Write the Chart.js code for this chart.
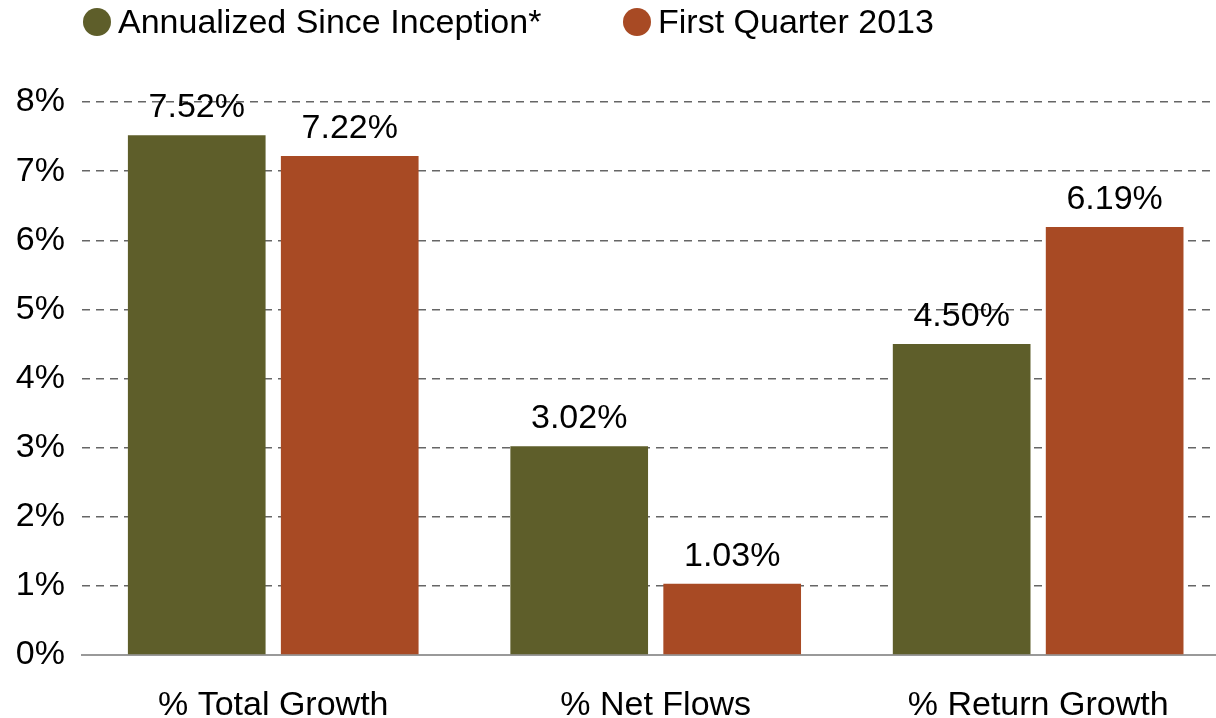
<!DOCTYPE html>
<html>
<head>
<meta charset="utf-8">
<script src="https://cdn.jsdelivr.net/npm/chart.js@4/dist/chart.umd.min.js"></script>
<style>
  html, body { margin: 0; padding: 0; background: #fff; }
  #wrap { width: 1216px; height: 718px; position: relative; }
</style>
</head>
<body>
<div id="wrap"><canvas id="growthChart"></canvas></div>
<script>
// ------------------------------------------------------------
// DATA
// ------------------------------------------------------------
const categories = ["% Total Growth", "% Net Flows", "% Return Growth"];
const seriesNames = ["Annualized Since Inception*", "First Quarter 2013"];
const sinceInception = [7.52, 3.02, 4.50];
const firstQuarter = [7.22, 1.03, 6.19];
const yTicks = [0, 1, 2, 3, 4, 5, 6, 7, 8];

const GREEN = "#5e5e2a";
const ORANGE = "#a84a24";
const FONT = "'Liberation Sans', Arial, Helvetica, sans-serif";
const FSIZE = 34;

Chart.defaults.font.family = FONT;
Chart.defaults.font.size = FSIZE;
Chart.defaults.color = "#000";

// ------------------------------------------------------------
// PLUGINS
// ------------------------------------------------------------
const valueLabels = {
  id: "valueLabels",
  afterDatasetsDraw(chart) {
    const ctx = chart.ctx;
    ctx.save();
    ctx.font = FSIZE + "px " + FONT;
    ctx.fillStyle = "#000";
    ctx.textAlign = "center";
    ctx.textBaseline = "alphabetic";
    chart.data.datasets.forEach((ds, i) => {
      chart.getDatasetMeta(i).data.forEach((bar, j) => {
        const v = ds.data[j].y;
        ctx.fillText(v.toFixed(2) + "%", bar.x, bar.y - 18);
      });
    });
    ctx.restore();
  }
};

const topLegend = {
  id: "topLegend",
  afterDraw(chart) {
    const ctx = chart.ctx;
    const items = [
      { x: 97, color: GREEN },
      { x: 637, color: ORANGE }
    ];
    ctx.save();
    ctx.font = FSIZE + "px " + FONT;
    ctx.textBaseline = "middle";
    ctx.textAlign = "left";
    chart.data.datasets.forEach((ds, i) => {
      const it = items[i];
      ctx.fillStyle = it.color;
      ctx.beginPath();
      ctx.arc(it.x, 22, 14, 0, Math.PI * 2);
      ctx.fill();
      ctx.fillStyle = "#000";
      ctx.fillText(ds.label, it.x + 21, 24);
    });
    ctx.restore();
  }
};

// ------------------------------------------------------------
// CHART
// ------------------------------------------------------------
const toPoints = arr => arr.map((v, i) => ({ x: i, y: v }));

new Chart(document.getElementById("growthChart"), {
  type: "bar",
  data: {
    datasets: [
      {
        label: seriesNames[0],
        data: toPoints(sinceInception),
        backgroundColor: GREEN,
        categoryPercentage: 0.8,
        barPercentage: 0.9
      },
      {
        label: seriesNames[1],
        data: toPoints(firstQuarter),
        backgroundColor: ORANGE,
        categoryPercentage: 0.8,
        barPercentage: 0.9
      }
    ]
  },
  options: {
    responsive: true,
    maintainAspectRatio: false,
    animation: false,
    layout: { padding: { top: 102, left: 0, right: 0, bottom: 0 } },
    plugins: {
      legend: { display: false },
      tooltip: { enabled: false }
    },
    scales: {
      x: {
        type: "linear",
        offset: false,
        min: -0.5,
        max: 2.465,
        afterBuildTicks: scale => {
          scale.ticks = categories.map((c, i) => ({ value: i }));
        },
        afterFit: scale => { scale.height = 63; },
        ticks: {
          padding: 30,
          autoSkip: false,
          maxRotation: 0,
          callback: v => categories[v]
        },
        grid: { display: false, drawTicks: false },
        border: { display: true, color: "#999", width: 2 }
      },
      y: {
        min: 0,
        max: 8,
        afterBuildTicks: scale => {
          scale.ticks = yTicks.map(v => ({ value: v }));
        },
        afterFit: scale => { scale.width = 82; },
        ticks: {
          padding: 17,
          callback: v => v + "%"
        },
        grid: {
          drawTicks: false,
          color: c => (c.tick.value === 0 ? "rgba(0,0,0,0)" : "#666"),
          lineWidth: 1.4
        },
        border: { display: false, dash: [8, 6] }
      }
    }
  },
  plugins: [valueLabels, topLegend]
});
</script>
</body>
</html>
